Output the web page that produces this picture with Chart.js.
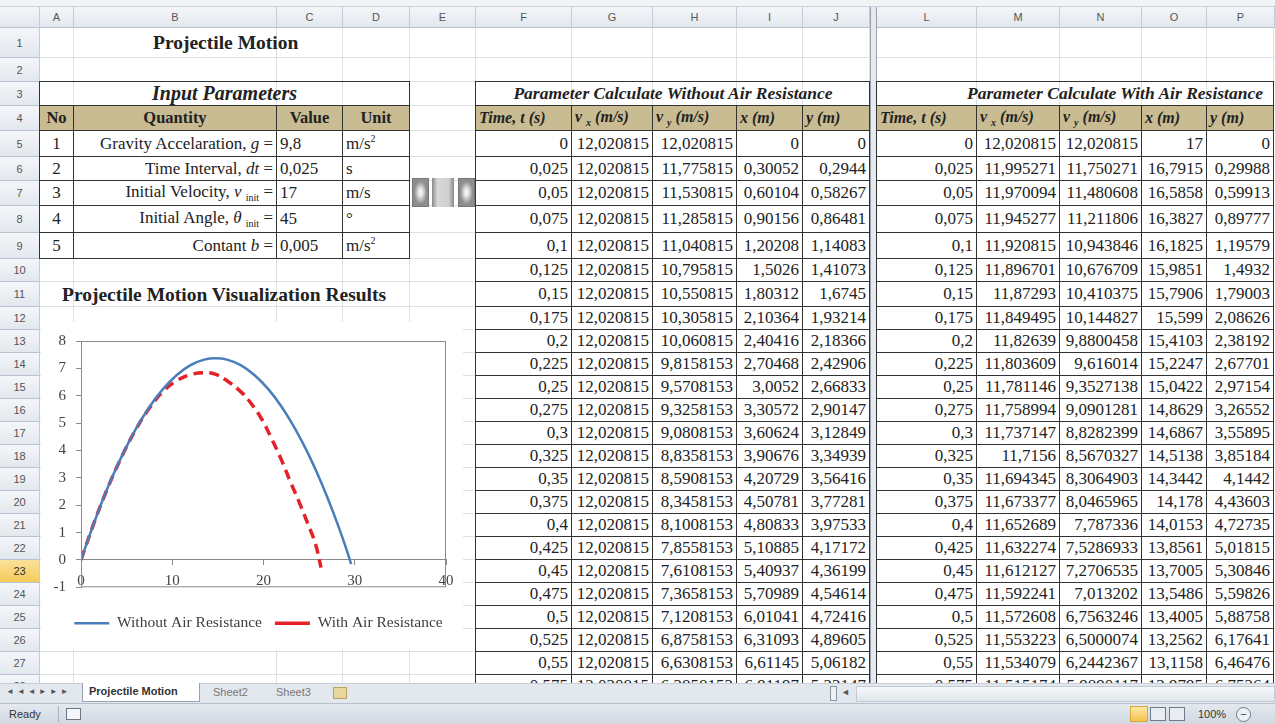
<!DOCTYPE html>
<html>
<head>
<meta charset="utf-8">
<script src="https://cdn.jsdelivr.net/npm/chart.js@4.4.1/dist/chart.umd.min.js"></script>
<style>
  html, body { margin: 0; padding: 0; background: #fff; }
  body { width: 1275px; height: 724px; position: relative; overflow: hidden; font-family: "Liberation Serif", serif; }
  #sheet { position: absolute; left: 0; top: 0; width: 1275px; height: 683px; overflow: hidden; background: #fff; }
  .abs { position: absolute; box-sizing: border-box; white-space: nowrap; }
  .cell { position: absolute; box-sizing: border-box; display: flex; align-items: center; white-space: nowrap; overflow: hidden;
          font-size: 17px; color: #222; padding: 0 3px; }
  .hdr { position: absolute; box-sizing: border-box; display: flex; align-items: center; justify-content: center;
         font-family: "Liberation Sans", sans-serif; font-size: 11px; color: #555; background: linear-gradient(#f4f6f9, #e3e8ee);
         border-right: 1px solid #c5ccd6; border-bottom: 1px solid #b9c3cf; }
  .tab, .status { position: absolute; left: 0; width: 1275px; box-sizing: border-box; font-family: "Liberation Sans", sans-serif; font-size: 11px; color: #333; }
  sub, sup { font-size: 10px; }
  #chartBox { position: absolute; left: 41px; top: 322px; width: 422px; height: 328px; background: #fff; }
</style>
</head>
<body>
<div id="sheet"></div>
<div id="chartBox"><canvas id="myChart" width="422" height="328"></canvas></div>
<div class="tab" id="tabbar" style="top:683px;height:20px;background:#e3e8ee;border-top:1px solid #c7ced8;"></div>
<div class="status" id="statusbar" style="top:703px;height:21px;background:linear-gradient(#e4e9ef,#d1d8e1);border-top:1px solid #b7c0cc;"></div>
<script>
// chart data
let xNoAirPts = [0, 1.5, 3, 4.5, 6, 7.5, 9, 10.5, 12, 13.5, 14.75, 16, 17.5, 19, 20.5, 22, 23.5, 25, 26.5, 28, 29, 29.6];
let yNoAirPts = [0, 1.42, 2.7, 3.81, 4.78, 5.59, 6.25, 6.76, 7.12, 7.32, 7.37, 7.32, 7.12, 6.76, 6.25, 5.59, 4.77, 3.81, 2.69, 1.42, 0.48, -0.15];
let xAirPts = [0, 1.5, 3, 4.5, 6, 7.5, 9, 10.5, 12, 13.5, 14.7, 16, 17.5, 18.5, 19.8, 20.9, 22, 22.9, 23.85, 24.8, 25.7, 26.3];
let yAirPts = [0, 1.42, 2.69, 3.8, 4.76, 5.55, 6.16, 6.55, 6.77, 6.84, 6.79, 6.55, 6.15, 5.78, 5.15, 4.42, 3.63, 2.89, 2.16, 1.37, 0.58, -0.28];
let seriesNames = ["Without Air Resistance", "With Air Resistance"];
let xTicks = [0, 10, 20, 30, 40];
let yTicks = [-1, 0, 1, 2, 3, 4, 5, 6, 7, 8];

// table contents
let tValues = ["0", "0,025", "0,05", "0,075", "0,1", "0,125", "0,15", "0,175", "0,2", "0,225", "0,25", "0,275", "0,3", "0,325", "0,35", "0,375", "0,4", "0,425", "0,45", "0,475", "0,5", "0,525", "0,55", "0,575"];
let vxNoAir = ["12,020815", "12,020815", "12,020815", "12,020815", "12,020815", "12,020815", "12,020815", "12,020815", "12,020815", "12,020815", "12,020815", "12,020815", "12,020815", "12,020815", "12,020815", "12,020815", "12,020815", "12,020815", "12,020815", "12,020815", "12,020815", "12,020815", "12,020815", "12,020815"];
let vyNoAir = ["12,020815", "11,775815", "11,530815", "11,285815", "11,040815", "10,795815", "10,550815", "10,305815", "10,060815", "9,8158153", "9,5708153", "9,3258153", "9,0808153", "8,8358153", "8,5908153", "8,3458153", "8,1008153", "7,8558153", "7,6108153", "7,3658153", "7,1208153", "6,8758153", "6,6308153", "6,3858153"];
let xNoAir = ["0", "0,30052", "0,60104", "0,90156", "1,20208", "1,5026", "1,80312", "2,10364", "2,40416", "2,70468", "3,0052", "3,30572", "3,60624", "3,90676", "4,20729", "4,50781", "4,80833", "5,10885", "5,40937", "5,70989", "6,01041", "6,31093", "6,61145", "6,91197"];
let yNoAir = ["0", "0,2944", "0,58267", "0,86481", "1,14083", "1,41073", "1,6745", "1,93214", "2,18366", "2,42906", "2,66833", "2,90147", "3,12849", "3,34939", "3,56416", "3,77281", "3,97533", "4,17172", "4,36199", "4,54614", "4,72416", "4,89605", "5,06182", "5,22147"];
let vxAir = ["12,020815", "11,995271", "11,970094", "11,945277", "11,920815", "11,896701", "11,87293", "11,849495", "11,82639", "11,803609", "11,781146", "11,758994", "11,737147", "11,7156", "11,694345", "11,673377", "11,652689", "11,632274", "11,612127", "11,592241", "11,572608", "11,553223", "11,534079", "11,515174"];
let vyAir = ["12,020815", "11,750271", "11,480608", "11,211806", "10,943846", "10,676709", "10,410375", "10,144827", "9,8800458", "9,616014", "9,3527138", "9,0901281", "8,8282399", "8,5670327", "8,3064903", "8,0465965", "7,787336", "7,5286933", "7,2706535", "7,013202", "6,7563246", "6,5000074", "6,2442367", "5,9890117"];
let xAir = ["17", "16,7915", "16,5858", "16,3827", "16,1825", "15,9851", "15,7906", "15,599", "15,4103", "15,2247", "15,0422", "14,8629", "14,6867", "14,5138", "14,3442", "14,178", "14,0153", "13,8561", "13,7005", "13,5486", "13,4005", "13,2562", "13,1158", "12,9795"];
let yAir = ["0", "0,29988", "0,59913", "0,89777", "1,19579", "1,4932", "1,79003", "2,08626", "2,38192", "2,67701", "2,97154", "3,26552", "3,55895", "3,85184", "4,1442", "4,43603", "4,72735", "5,01815", "5,30846", "5,59826", "5,88758", "6,17641", "6,46476", "6,75264"];
let paramNo = ["1", "2", "3", "4", "5"];
let paramName = ["Gravity Accelaration, <i><u>g</u></i> =", "Time Interval, <i>dt</i> =", "Initial Velocity, <i>v</i> <sub>init</sub> =", "Initial Angle, <i>&theta;</i> <sub>init</sub> =", "Contant <i>b</i> ="];
let paramValue = ["9,8", "0,025", "17", "45", "0,005"];
let paramUnit = ["m/s<sup>2</sup>", "s", "m/s", "&deg;", "m/s<sup>2</sup>"];

// sheet layout
let colNames = ["", "A", "B", "C", "D", "E", "F", "G", "H", "I", "J", "K", "L", "M", "N", "O", "P"];
let colEdges = [0, 40, 74, 277, 343, 410, 476, 572, 653, 737, 803, 870, 877, 977, 1060, 1142, 1207, 1274];
let rowEdges = [7, 28, 58, 82, 106, 131, 157, 181, 206, 233, 259, 282, 307, 330, 353, 376, 399, 422, 445, 468, 491, 514, 537, 560, 583, 606, 629, 652, 675, 698];

let sheet = document.getElementById("sheet");

function addDiv(parent, cls, css, html) {
	let d = document.createElement("div");
	d.className = cls;
	d.style.cssText = css;
	d.innerHTML = html || "";
	parent.appendChild(d);
	return d;
}

function rect(c1, r1, c2, r2) {
	let l = colEdges[c1], t = rowEdges[r1];
	return `left:${l}px;top:${t}px;width:${colEdges[c2 + 1] - l}px;height:${rowEdges[r2 + 1] - t}px;`;
}

function cell(c1, r1, c2, r2, html, align, extra) {
	let j = align === "r" ? "flex-end" : align === "c" ? "center" : "flex-start";
	return addDiv(sheet, "cell", rect(c1, r1, c2, r2) + `justify-content:${j};` + (extra || ""), "<span>" + html + "</span>");
}

// light grid lines
addDiv(sheet, "abs", "left:0;top:0;width:1275px;height:7px;background:#f3f4f6;border-bottom:1px solid #c9d0d9;");
for (let i = 1; i < colEdges.length; i++) {
	addDiv(sheet, "abs", `left:${colEdges[i] - 1}px;top:28px;width:1px;height:680px;background:#dcdfe3;`);
}
for (let i = 1; i < rowEdges.length; i++) {
	addDiv(sheet, "abs", `left:40px;top:${rowEdges[i] - 1}px;width:1240px;height:1px;background:#dcdfe3;`);
}

// column K split bar
addDiv(sheet, "abs", "left:870px;top:7px;width:7px;height:680px;background:#e6e9ed;border-left:1px solid #9aa3ad;border-right:1px solid #9aa3ad;");

// headers
addDiv(sheet, "hdr", "left:0;top:7px;width:40px;height:21px;");
for (let c = 1; c < colNames.length; c++) {
	if (colNames[c] === "K") continue;
	let w = (c === colNames.length - 1 ? 1275 : colEdges[c + 1]) - colEdges[c];
	addDiv(sheet, "hdr", `left:${colEdges[c]}px;top:7px;width:${w}px;height:21px;`, colNames[c]);
}
for (let r = 1; r < rowEdges.length - 1; r++) {
	let bg = r === 23 ? "background:linear-gradient(#fbe19a,#f6cb5a);color:#333;" : "";
	addDiv(sheet, "hdr", `left:0;top:${rowEdges[r]}px;width:40px;height:${rowEdges[r + 1] - rowEdges[r]}px;` + bg, String(r));
}

// titles
addDiv(sheet, "cell", "left:150px;top:28px;width:200px;height:30px;font-weight:bold;font-size:19.5px;", "<span>Projectile Motion</span>");
addDiv(sheet, "cell", "left:59px;top:282px;width:380px;height:25px;font-weight:bold;font-size:19.5px;", "<span>Projectile Motion Visualization Results</span>");

// input parameter table
let B = "border-right:1px solid #333;border-bottom:1px solid #333;";
addDiv(sheet, "abs", `left:${colEdges[1] - 1}px;top:${rowEdges[3] - 1}px;width:${colEdges[5] - colEdges[1] + 1}px;height:${rowEdges[10] - rowEdges[3] + 1}px;border:1px solid #333;`);
cell(1, 3, 4, 3, "Input Parameters", "c", "font-weight:bold;font-style:italic;font-size:20px;border-bottom:1px solid #333;border-right:1px solid #333;");
let inHead = ["No", "Quantity", "Value", "Unit"];
for (let i = 0; i < 4; i++) {
	cell(1 + i, 4, 1 + i, 4, inHead[i], "c", "font-weight:bold;font-size:16.5px;background:#c9bc93;" + B);
}
for (let i = 0; i < paramNo.length; i++) {
	cell(1, 5 + i, 1, 5 + i, paramNo[i], "c", B);
	cell(2, 5 + i, 2, 5 + i, paramName[i], "r", B);
	cell(3, 5 + i, 3, 5 + i, paramValue[i], "l", B);
	cell(4, 5 + i, 4, 5 + i, paramUnit[i], "l", B);
}

// spin / scroll control in E7
addDiv(sheet, "abs", "left:412px;top:178px;width:17px;height:29px;background:radial-gradient(#f0f0f0 15%, #8d8d8d 60%);border:1px solid #777;");
addDiv(sheet, "abs", "left:432px;top:178px;width:22px;height:29px;background:linear-gradient(90deg,#8a8a8a,#d8d8d8 25%,#d0d0d0 75%,#8a8a8a);");
addDiv(sheet, "abs", "left:458px;top:178px;width:17px;height:29px;background:radial-gradient(#f0f0f0 15%, #8d8d8d 60%);border:1px solid #777;");

// data tables
let colHeads = ["Time, <i>t</i> (s)", "<i>v</i> <sub>x</sub> (m/s)", "<i>v</i> <sub>y</sub> (m/s)", "<i>x</i> (m)", "<i>y</i> (m)"];
function dataTable(c0, title, titleCss, cols) {
	addDiv(sheet, "abs", `left:${colEdges[c0] - 1}px;top:${rowEdges[3] - 1}px;width:${colEdges[c0 + 5] - colEdges[c0] + 1}px;height:700px;border:1px solid #333;`);
	cell(c0, 3, c0 + 4, 3, title, "c", "font-weight:bold;font-style:italic;font-size:17.5px;border-bottom:1px solid #333;" + titleCss);
	for (let k = 0; k < 5; k++) {
		cell(c0 + k, 4, c0 + k, 4, colHeads[k], "l", "font-weight:bold;font-style:italic;font-size:16px;background:#c9bc93;" + B);
	}
	for (let i = 0; i < tValues.length; i++) {
		for (let k = 0; k < 5; k++) {
			cell(c0 + k, 5 + i, c0 + k, 5 + i, cols[k][i], "r", B + "background:#fff;");
		}
	}
}
dataTable(6, "Parameter Calculate Without Air Resistance", "", [tValues, vxNoAir, vyNoAir, xNoAir, yNoAir]);
dataTable(12, "Parameter Calculate With Air Resistance", "padding-left:82px;", [tValues, vxAir, vyAir, xAir, yAir]);

// sheet tabs and status bar
let tabbar = document.getElementById("tabbar");
addDiv(tabbar, "abs", "left:6px;top:3px;width:70px;height:14px;color:#555;font-size:8px;letter-spacing:3px;", "&#9668;&#9668;&#9668;&#9658;&#9658;&#9658;");
addDiv(tabbar, "abs", "left:82px;top:-1px;width:118px;height:19px;background:#fff;border:1px solid #98a4b3;border-top:none;padding:2px 6px;font-weight:bold;color:#333;", "Projectile Motion");
addDiv(tabbar, "abs", "left:205px;top:2px;width:60px;height:16px;color:#777;padding-left:8px;", "Sheet2");
addDiv(tabbar, "abs", "left:268px;top:2px;width:60px;height:16px;color:#777;padding-left:8px;", "Sheet3");
addDiv(tabbar, "abs", "left:333px;top:3px;width:14px;height:12px;background:#e8d89c;border:1px solid #b9a45c;");
addDiv(tabbar, "abs", "left:830px;top:2px;width:7px;height:15px;border:1px solid #8a96a5;background:#eef1f5;");
addDiv(tabbar, "abs", "left:841px;top:3px;width:10px;height:13px;color:#555;font-size:9px;", "&#9668;");
addDiv(tabbar, "abs", "left:856px;top:2px;width:419px;height:16px;background:linear-gradient(#f6f8fa,#e1e6ec);border:1px solid #c2cad4;");

let statusbar = document.getElementById("statusbar");
addDiv(statusbar, "abs", "left:9px;top:4px;width:45px;height:14px;color:#333;", "Ready");
addDiv(statusbar, "abs", "left:58px;top:2px;width:1px;height:16px;background:#aab3be;");
addDiv(statusbar, "abs", "left:66px;top:4px;width:15px;height:12px;border:1px solid #6a7583;background:#f4f6f8;");
addDiv(statusbar, "abs", "left:1130px;top:2px;width:18px;height:16px;background:linear-gradient(#fde7a6,#f4c24f);border:1px solid #d9a73b;");
addDiv(statusbar, "abs", "left:1150px;top:3px;width:16px;height:14px;border:1px solid #6f7b8a;background:#e9edf2;");
addDiv(statusbar, "abs", "left:1169px;top:3px;width:16px;height:14px;border:1px solid #6f7b8a;background:#e9edf2;");
addDiv(statusbar, "abs", "left:1198px;top:4px;width:32px;height:14px;color:#333;", "100%");
addDiv(statusbar, "abs", "left:1236px;top:3px;width:15px;height:15px;border:1px solid #6f7b8a;border-radius:50%;background:#eef1f5;text-align:center;line-height:13px;color:#444;", "&minus;");

// chart
let noAirData = xNoAirPts.map((x, i) => ({ x: x, y: yNoAirPts[i] }));
let airData = xAirPts.map((x, i) => ({ x: x, y: yAirPts[i] }));

let plotBorder = {
	id: "plotBorder",
	afterDraw(chart) {
		let a = chart.chartArea;
		let c = chart.ctx;
		c.save();
		c.strokeStyle = "#8a8a8a";
		c.lineWidth = 1;
		c.strokeRect(a.left + 0.5, a.top + 0.5, a.right - a.left - 1, a.bottom - a.top - 1);
		c.restore();
	},
};

// excel centres the legend under the plot, not under the whole chart
let legendShift = {
	id: "legendShift",
	afterLayout(chart) {
		chart.legend.left += 15;
		chart.legend.right += 15;
	},
};

let axisFont = { family: "Liberation Serif", size: 15 };

var ctx = document.getElementById("myChart").getContext("2d");
var chart = new Chart(ctx, {
	type: "scatter",
	data: {
		datasets: [
			{
				label: seriesNames[0],
				data: noAirData,
				showLine: true,
				borderColor: "#4a7ebb",
				backgroundColor: "#4a7ebb",
				borderWidth: 2.5,
				pointRadius: 0,
				tension: 0.4,
			},
			{
				label: seriesNames[1],
				data: airData,
				showLine: true,
				borderColor: "#e5222a",
				backgroundColor: "#e5222a",
				borderWidth: 3.5,
				borderDash: [10, 6],
				pointRadius: 0,
				tension: 0.4,
			},
		],
	},
	options: {
		responsive: false,
		devicePixelRatio: 1,
		animation: false,
		layout: { padding: { top: 18, right: 17, left: 0, bottom: 9 } },
		plugins: {
			tooltip: { enabled: false },
			legend: {
				position: "bottom",
				title: { display: true, text: "", font: { size: 1 }, padding: { top: 14, bottom: 0 } },
				labels: {
					usePointStyle: true,
					pointStyle: "line",
					pointStyleWidth: 35,
					padding: 13,
					color: "#404040",
					font: { family: "Liberation Serif", size: 15.5 },
				},
			},
		},
		scales: {
			x: {
				type: "linear",
				position: { y: 0 },
				min: xTicks[0],
				max: xTicks[xTicks.length - 1],
				afterBuildTicks: (s) => { s.ticks = xTicks.map((v) => ({ value: v })); },
				ticks: { color: "#444", font: axisFont, padding: 7, maxRotation: 0 },
				grid: { drawOnChartArea: false, drawTicks: true, tickLength: 5, color: "#8a8a8a" },
				border: { color: "#8a8a8a" },
			},
			y: {
				min: yTicks[0],
				max: yTicks[yTicks.length - 1],
				afterBuildTicks: (s) => { s.ticks = yTicks.map((v) => ({ value: v })); },
				afterFit: (s) => { s.width = 40; },
				ticks: { color: "#444", font: axisFont, padding: 10 },
				grid: { drawOnChartArea: false, drawTicks: true, tickLength: 5, color: "#8a8a8a" },
				border: { color: "#8a8a8a" },
			},
		},
	},
	plugins: [plotBorder, legendShift],
});
</script>
</body>
</html>
